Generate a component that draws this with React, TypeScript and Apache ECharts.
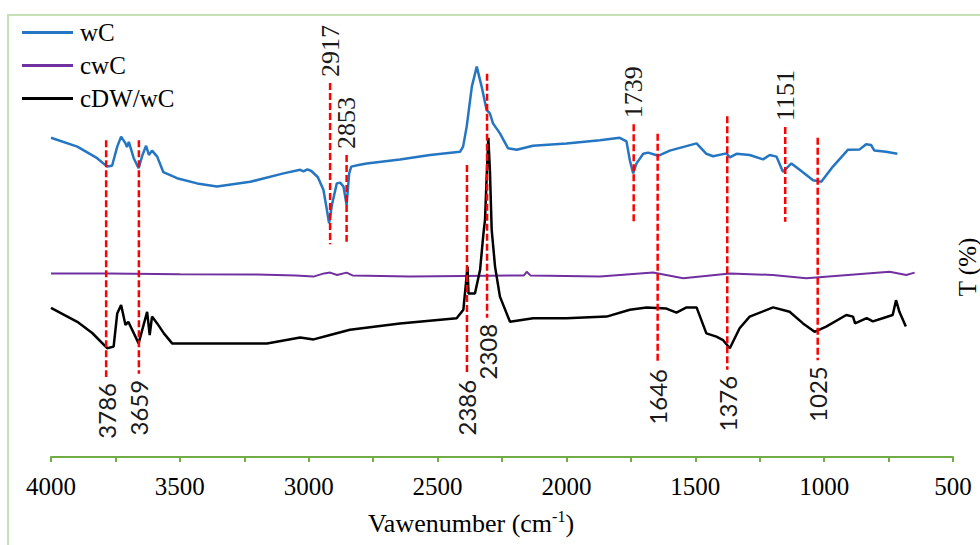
import React, { useEffect, useRef } from "react";
import * as echarts from "echarts";

// Series names
const seriesNames = ["wC", "cwC", "cDW/wC"];

// wC spectrum: [wavenumber, T]
const wCData = [
  [4000, 79.8], [3898, 77.6], [3821, 74.7], [3782, 72.6], [3763, 72.8], [3743, 77.6], [3728, 80.1],
  [3711, 78.4], [3705, 77.5], [3698, 78.8], [3679, 74.7], [3660, 72.2], [3645, 75.5], [3631, 77.8],
  [3620, 75.5], [3608, 76.6], [3588, 75.1], [3564, 71.2], [3511, 69.7], [3433, 68.4], [3356, 67.6],
  [3227, 68.8], [3098, 70.9], [3033, 71.8], [3020, 71.4], [3005, 71.9], [2990, 71.5], [2965, 70],
  [2943, 66.8], [2930, 62], [2921, 58.4], [2910, 63], [2891, 68.4], [2878, 68.6], [2865, 67.6],
  [2853, 63], [2843, 70.9], [2835, 72.6], [2807, 73], [2775, 73.4], [2646, 74.4], [2529, 75.5],
  [2413, 76.3], [2401, 77.6], [2387, 82.6], [2367, 92.6], [2348, 97.6], [2329, 92.6], [2310, 86.8],
  [2297, 85.9], [2285, 83.4], [2258, 80.9], [2227, 77.2], [2193, 76.8], [2130, 77.8], [2000, 78.4],
  [1870, 79.2], [1793, 79.8], [1767, 78.9], [1754, 74.2], [1741, 70.9], [1728, 73.4], [1702, 75.8],
  [1683, 76.1], [1644, 75.3], [1599, 76.6], [1495, 78.4], [1457, 75.8], [1431, 75.2], [1379, 75.9],
  [1366, 74.9], [1340, 75.8], [1289, 75.5], [1237, 74.4], [1211, 75.5], [1185, 75.1], [1160, 71.3],
  [1127, 73.4], [1095, 71.8], [1043, 69.2], [1011, 68.8], [966, 72.6], [908, 76.8], [862, 76.9],
  [837, 78.2], [818, 78], [805, 76.6], [760, 76.3], [716, 75.8],
];

// cwC spectrum
const cwCData = [
  [4000, 45.9], [3780, 45.9], [3500, 45.7], [3200, 45.6], [3050, 45.4], [2982, 45.1], [2940, 45.9],
  [2917, 46.1], [2890, 45.5], [2853, 46.1], [2830, 45.4], [2607, 45.1], [2300, 45.3], [2165, 45.4],
  [2154, 46.3], [2140, 45.4], [1870, 45.1], [1664, 46.1], [1547, 44.7], [1366, 45.9], [1200, 45.5],
  [1069, 44.7], [746, 46.3], [681, 45.5], [649, 46.1],
];

// cDW/wC spectrum
const cdwData = [
  [4000, 37.3], [3898, 33.8], [3840, 31], [3782, 27.2], [3757, 27.6], [3743, 35.9], [3728, 38],
  [3711, 33], [3700, 33.8], [3660, 28.4], [3627, 36.3], [3617, 30.5], [3608, 35.1], [3588, 33.4],
  [3562, 30.9], [3530, 28.4], [3291, 28.4], [3162, 28.4], [3033, 29.9], [2981, 29.4], [2917, 30.5],
  [2840, 31.8], [2646, 33.4], [2426, 34.7], [2400, 36.8], [2390, 43.4], [2384, 47.6], [2380, 40.9],
  [2355, 40.9], [2335, 46.8], [2322, 55.9], [2316, 59.2], [2310, 69.2], [2303, 79.8], [2297, 71.8],
  [2290, 56.8], [2277, 47.6], [2258, 40.1], [2219, 33.8], [2129, 34.7], [2000, 34.7], [1844, 35.1],
  [1754, 36.8], [1689, 37.4], [1612, 37.1], [1573, 36.1], [1534, 37.4], [1495, 37.4], [1457, 30.9],
  [1418, 30.1], [1392, 29.2], [1366, 27.2], [1328, 32.2], [1289, 35.1], [1198, 37.4], [1134, 36.3],
  [1082, 33.4], [1037, 31.3], [992, 32.6], [914, 35.5], [888, 35.1], [880, 33.4], [835, 34.7],
  [811, 33.9], [773, 34.7], [734, 35.5], [721, 39.2], [708, 36.3], [683, 32.6],
];

// Peak annotations
const peakWavenumbers = [3786, 3659, 2917, 2853, 2386, 2308, 1739, 1646, 1376, 1151, 1025];
const peakLineTops = [79.2, 79.2, 93.5, 75.5, 73, 95.8, 83.2, 80.8, 85.2, 82.5, 79.8];
const peakLineBottoms = [20, 20.8, 53.2, 53.8, 20.8, 34.8, 58.8, 23.5, 21.8, 58.8, 24.2];
const peakLabelAbove = [0, 0, 1, 1, 0, 0, 1, 0, 0, 1, 0];

// Axis
const xMin = 500;
const xMax = 4000;
const xTickStep = 250;
const xLabelStep = 500;

const SERIF = "Liberation Serif, Times New Roman, serif";
const SANS = "Lato, Noto Sans, sans-serif";

export default function App() {
  const ref = useRef<HTMLDivElement>(null);

  useEffect(() => {
    if (!ref.current) return;
    const chart = echarts.init(ref.current, undefined, { renderer: "svg" });
    const annotationData = peakWavenumbers.map((w, i) => [w, peakLineTops[i], peakLineBottoms[i], peakLabelAbove[i]]);
    const gap = 6;

    chart.setOption({
      animation: false,
      backgroundColor: "#ffffff",
      textStyle: { fontFamily: SERIF },
      grid: { left: 51, right: 27, top: 57, bottom: 88, containLabel: false },
      legend: {
        data: seriesNames,
        orient: "vertical",
        left: 22,
        top: 16,
        padding: 0,
        itemGap: 0,
        icon: "rect",
        itemWidth: 51,
        itemHeight: 3,
        textStyle: { fontFamily: SERIF, fontSize: 25, color: "#000", lineHeight: 33, padding: [0, 0, 0, 2] },
      },
      xAxis: {
        type: "value",
        min: xMin,
        max: xMax,
        interval: xTickStep,
        inverse: true,
        axisLine: { lineStyle: { color: "#70AD47", width: 2 } },
        axisTick: { show: true, inside: false, length: 5, lineStyle: { color: "#70AD47", width: 2 } },
        splitLine: { show: false },
        axisLabel: {
          margin: 17,
          fontFamily: SERIF,
          fontSize: 25,
          color: "#000",
          formatter: (v: number) => (v % xLabelStep === 0 ? String(v) : ""),
        },
      },
      yAxis: { type: "value", min: 0, max: 100, show: false },
      graphic: [
        {
          type: "rect",
          shape: { x: 8, y: 15, width: 1100, height: 700 },
          style: { fill: "none", stroke: "#c5e0b4", lineWidth: 2 },
          silent: true,
        },
        {
          type: "text",
          x: 471,
          y: 523,
          style: {
            text: "{a|Vawenumber (cm}{b|-1}{a|)}",
            textAlign: "center",
            textVerticalAlign: "middle",
            rich: {
              a: { fontFamily: SERIF, fontSize: 26, fill: "#000", lineHeight: 30 },
              b: { fontFamily: SERIF, fontSize: 16, fill: "#000", verticalAlign: "top", lineHeight: 20 },
            },
          },
        },
        {
          type: "text",
          x: 967,
          y: 267,
          rotation: Math.PI / 2,
          style: {
            text: "T (%)",
            fontFamily: SERIF,
            fontSize: 25,
            fill: "#000",
            textAlign: "center",
            textVerticalAlign: "middle",
          },
        },
      ],
      series: [
        {
          name: seriesNames[0],
          type: "line",
          data: wCData,
          symbol: "none",
          color: "#2476C2",
          itemStyle: { color: "#2476C2" },
          lineStyle: { color: "#2476C2", width: 2.5 },
          z: 3,
        },
        {
          name: seriesNames[1],
          type: "line",
          data: cwCData,
          symbol: "none",
          color: "#7030A0",
          itemStyle: { color: "#7030A0" },
          lineStyle: { color: "#7030A0", width: 2 },
          z: 2,
        },
        {
          name: seriesNames[2],
          type: "line",
          data: cdwData,
          symbol: "none",
          color: "#000000",
          itemStyle: { color: "#000000" },
          lineStyle: { color: "#000000", width: 2.5 },
          z: 3,
        },
        {
          name: "peaks",
          type: "custom",
          z: 10,
          clip: false,
          data: annotationData,
          renderItem: (params: any, api: any) => {
            const w = api.value(0);
            const top = api.coord([w, api.value(1)]);
            const bot = api.coord([w, api.value(2)]);
            const above = api.value(3) > 0;
            return {
              type: "group",
              children: [
                {
                  type: "line",
                  shape: { x1: top[0], y1: top[1], x2: bot[0], y2: bot[1] },
                  style: { stroke: "#FF0000", lineWidth: 2.5, lineDash: [7, 3] },
                },
                {
                  type: "text",
                  x: top[0],
                  y: above ? top[1] - gap : bot[1] + gap,
                  rotation: Math.PI / 2,
                  style: {
                    text: String(w),
                    fontFamily: above ? SERIF : SANS,
                    fontSize: above ? 26 : 24,
                    fill: "#1a1a1a",
                    textAlign: above ? "left" : "right",
                    textVerticalAlign: "middle",
                  },
                },
              ],
            };
          },
        },
      ],
    });

    return () => chart.dispose();
  }, []);

  return (
    <div
      ref={ref}
      style={{ position: "fixed", left: 0, top: 0, width: 980, height: 545, background: "#fff" }}
    />
  );
}
